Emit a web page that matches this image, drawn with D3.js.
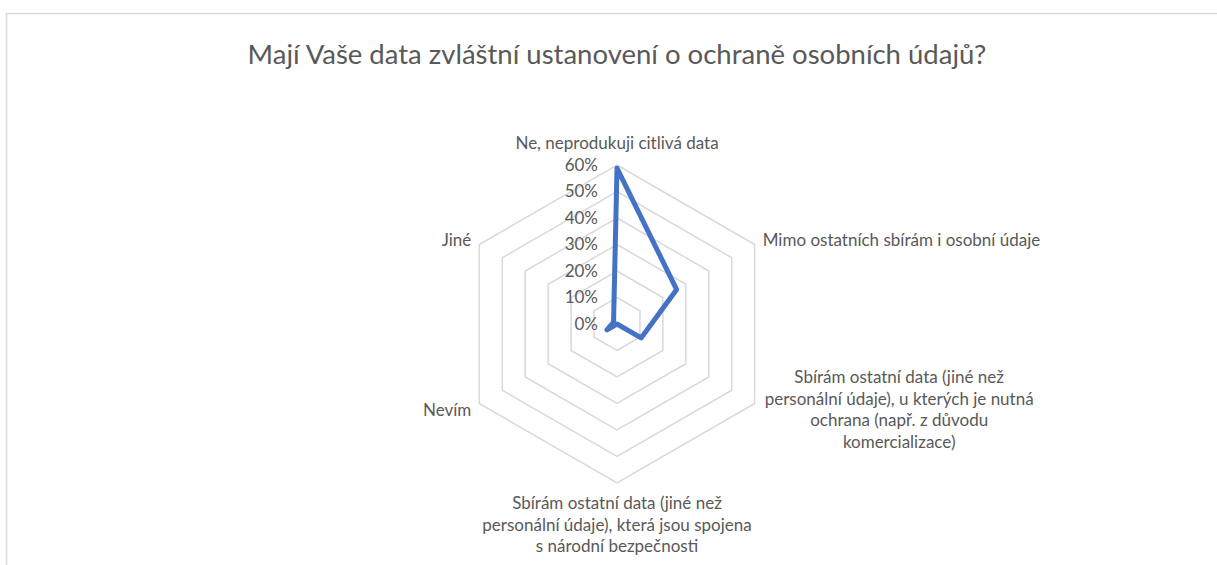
<!DOCTYPE html>
<html>
<head>
<meta charset="utf-8">
<script src="https://cdn.jsdelivr.net/npm/d3@7"></script>
<style>
  body { margin: 0; background: #fff; }
  svg text { font-family: Lato, "Open Sans", sans-serif; fill: #595959; }
</style>
</head>
<body>
<div id="chart"></div>
<script>
// radar chart
const title = "Mají Vaše data zvláštní ustanovení o ochraně osobních údajů?"

const categories = [
  ["Ne, neprodukuji citlivá data"],
  ["Mimo ostatních sbírám i osobní údaje"],
  ["Sbírám ostatní data (jiné než", "personální údaje), u kterých je nutná", "ochrana (např. z důvodu", "komercializace)"],
  ["Sbírám ostatní data (jiné než", "personální údaje), která jsou spojena", "s národní bezpečnosti"],
  ["Nevím"],
  ["Jiné"]
]
const values = [0.588, 0.26, 0.105, 0, 0.044, 0.015]
const ticks = [0, 0.1, 0.2, 0.3, 0.4, 0.5, 0.6]
const tickLabels = ["0%", "10%", "20%", "30%", "40%", "50%", "60%"]

const width = 1217, height = 565
const cx = 617, cy = 324
const lineH = 21.7
const fs = 17

const svg = d3.select("#chart").append("svg")
    .attr("width", width)
    .attr("height", height)
    .attr("viewBox", [0, 0, width, height])

// chart frame (right and bottom edges fall outside the window)
svg.append("rect")
    .attr("x", 6.5).attr("y", 13.5)
    .attr("width", 1300).attr("height", 700)
    .attr("fill", "none")
    .attr("stroke", "#d9d9d9")
    .attr("stroke-width", 1.5)

svg.append("text")
    .attr("x", cx).attr("y", 64)
    .attr("text-anchor", "middle")
    .attr("font-size", 27.5)
    .text(title)

const r = d3.scaleLinear().domain([0, 0.6]).range([0, 159])
const angle = d3.scaleLinear().domain([0, categories.length]).range([0, 2 * Math.PI])

const g = svg.append("g").attr("transform", `translate(${cx},${cy})`)

const radial = d3.lineRadial()
    .angle((d, i) => angle(i))
    .radius(d => r(d))
    .curve(d3.curveLinearClosed)

// hexagon grid
g.selectAll(".ring")
  .data(ticks.slice(1))
  .join("path")
    .attr("class", "ring")
    .attr("fill", "none")
    .attr("stroke", "#d9d9d9")
    .attr("stroke-width", 1.5)
    .attr("d", t => radial(categories.map(() => t)))

// tick labels on the top axis
g.selectAll(".tick")
  .data(ticks)
  .join("text")
    .attr("class", "tick")
    .attr("x", -19)
    .attr("y", t => -r(t))
    .attr("dy", "0.35em")
    .attr("text-anchor", "end")
    .attr("font-size", fs)
    .text((t, i) => tickLabels[i])

// series
g.append("path")
    .attr("fill", "none")
    .attr("stroke", "#4472C4")
    .attr("stroke-width", 5)
    .attr("stroke-linejoin", "round")
    .attr("d", radial(values))

// category labels
categories.forEach((lines, i) => {
  const a = angle(i)
  const vx = Math.sin(a) * r(0.6)
  const vy = -Math.cos(a) * r(0.6)
  const t = g.append("text").attr("font-size", fs)
  let x, y0, anchor = "middle"
  const n = lines.length
  if (Math.abs(Math.sin(a)) < 0.1) {
    x = vx
    y0 = Math.cos(a) > 0 ? vy - 16 - (n - 1) * lineH : vy + 26
  } else {
    const side = Math.sin(a) > 0 ? 1 : -1
    const center = Math.cos(a) > 0 ? vy - 5 : vy + 6
    y0 = center + 6 - (n - 1) * lineH / 2
    if (n === 1) {
      anchor = side > 0 ? "start" : "end"
      x = vx + side * 8
    } else {
      // wrapped labels are centred in their box
      const tmp = g.append("text").attr("font-size", fs)
      const w = d3.max(lines, l => tmp.text(l).node().getComputedTextLength())
      tmp.remove()
      x = vx + side * (10 + w / 2)
    }
  }
  t.attr("text-anchor", anchor)
  t.selectAll("tspan")
    .data(lines)
    .join("tspan")
      .attr("x", x)
      .attr("y", (l, j) => y0 + j * lineH)
      .text(l => l)
})
</script>
</body>
</html>
